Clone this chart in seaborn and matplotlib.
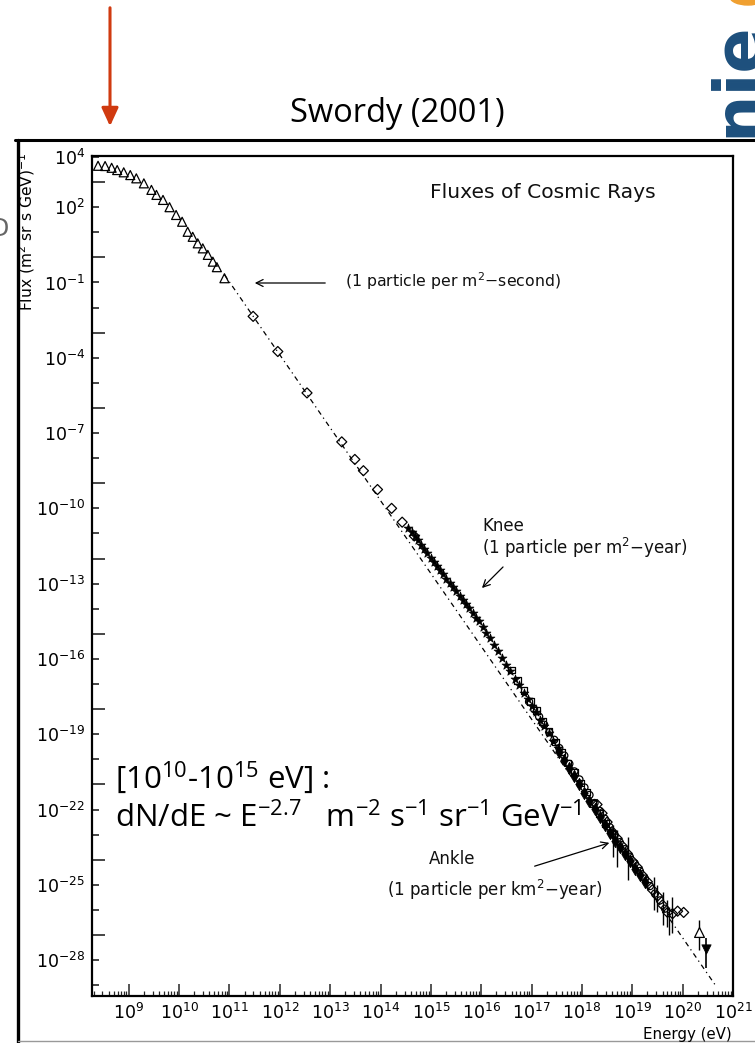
import numpy as np
import matplotlib
matplotlib.use("Agg")
import matplotlib.pyplot as plt
import seaborn as sns
from matplotlib.ticker import FixedLocator, FuncFormatter, LogLocator, NullFormatter
from matplotlib.lines import Line2D
from matplotlib.patches import Ellipse, FancyArrowPatch

# ---------------- data (log10 values) ----------------
tri_logE = [8.39, 8.53, 8.66, 8.77, 8.90, 9.03, 9.15, 9.30, 9.45, 9.55, 9.68, 9.81,
            9.94, 10.06, 10.17, 10.27, 10.37, 10.47, 10.57, 10.67, 10.75, 10.90]
tri_logF = [3.65, 3.64, 3.57, 3.48, 3.39, 3.28, 3.15, 2.95, 2.69, 2.49, 2.29, 2.00,
            1.69, 1.42, 1.02, 0.82, 0.56, 0.36, 0.10, -0.17, -0.39, -0.83]

dia_logE = [11.47, 11.96, 12.54, 13.23, 13.49, 13.66, 13.94, 14.22, 14.43, 14.67]
dia_logF = [-2.35, -3.75, -5.40, -7.35, -8.05, -8.50, -9.25, -10.00, -10.55, -11.10]

star_logE = [14.55, 14.62, 14.68, 14.74, 14.80, 14.87, 14.93, 15.00, 15.06, 15.12,
             15.19, 15.25, 15.31, 15.38, 15.44, 15.50, 15.57, 15.63, 15.70, 15.76,
             15.83, 15.90, 15.96, 16.03, 16.10, 16.17, 16.25, 16.33, 16.41, 16.50,
             16.58, 16.67, 16.75, 16.84, 16.92, 17.00, 17.08, 17.17, 17.25, 17.34,
             17.43, 17.52]
star_logF = [-10.80, -10.95, -11.12, -11.28, -11.44, -11.62, -11.78, -11.97, -12.12, -12.30,
             -12.47, -12.63, -12.80, -12.98, -13.15, -13.30, -13.50, -13.64, -13.82, -13.98,
             -14.16, -14.35, -14.50, -14.72, -14.95, -15.18, -15.43, -15.70, -15.96, -16.24,
             -16.50, -16.80, -17.05, -17.35, -17.60, -17.87, -18.13, -18.42, -18.68, -18.97,
             -19.25, -19.55]

sq_logE = [16.60, 16.72, 16.85, 16.98, 17.10, 17.22, 17.35, 17.47, 17.60, 17.72,
           17.85, 17.97, 18.10, 18.22, 18.35, 18.47, 18.60]
sq_logF = [-16.45, -16.85, -17.25, -17.70, -18.05, -18.50, -18.90, -19.30, -19.70, -20.15,
           -20.50, -20.95, -21.30, -21.75, -22.15, -22.55, -22.95]

fd_logE = [17.55, 17.65, 17.75, 17.85, 17.95, 18.05, 18.15, 18.25, 18.35, 18.45,
           18.55, 18.65, 18.75, 18.85, 18.95, 19.05, 19.15, 19.25]
fd_logF = [-19.70, -20.02, -20.35, -20.68, -21.00, -21.33, -21.65, -21.97, -22.30, -22.62,
           -22.95, -23.25, -23.50, -23.78, -24.05, -24.35, -24.62, -24.90]

circ_logE = [16.95, 17.05, 17.15, 17.25, 17.35, 17.45, 17.55, 17.65, 17.75, 17.85,
             17.95, 18.05, 18.15, 18.25, 18.35, 18.45, 18.55, 18.65, 18.75, 18.85,
             18.95, 19.05, 19.15, 19.25, 19.35, 19.45, 19.55, 19.65]
circ_logF = [-17.70, -18.00, -18.30, -18.62, -18.92, -19.22, -19.55, -19.85, -20.18, -20.48,
             -20.80, -21.12, -21.42, -21.74, -22.05, -22.36, -22.70, -23.02, -23.30, -23.58,
             -23.88, -24.15, -24.45, -24.75, -25.05, -25.35, -25.62, -25.95]

hd_logE = [18.30, 18.40, 18.50, 18.60, 18.70, 18.80, 18.90, 19.00, 19.10, 19.20,
           19.30, 19.40, 19.50, 19.60, 19.70, 19.80, 19.90, 20.02]
hd_logF = [-21.80, -22.15, -22.50, -22.88, -23.15, -23.45, -23.75, -24.05, -24.30, -24.62,
           -24.88, -25.20, -25.45, -25.80, -26.10, -26.15, -26.05, -26.10]

eb_logE = [18.62, 18.70, 18.92, 19.43, 19.50, 19.60, 19.68, 19.73, 19.79, 20.32]
eb_logF = [-23.10, -23.55, -23.95, -25.20, -25.45, -25.75, -26.00, -26.20, -26.30, -26.87]
eb_hi = [-22.60, -22.80, -23.10, -24.70, -25.00, -25.30, -25.60, -25.90, -25.50, -26.40]
eb_lo = [-23.90, -24.30, -24.80, -26.00, -26.10, -26.60, -26.70, -27.00, -26.90, -27.60]

lim_logE = [20.46]
lim_logF = [-27.55]
lim_hi = [-27.10]
lim_lo = [-28.30]

line_logE = [10.90, 20.65]
line_logF = [-0.69, -29.00]

xtick_exps = list(range(9, 22))
ylabel_exps = [4, 2, -1, -4, -7, -10, -13, -16, -19, -22, -25, -28]
ylong_exps = [3, 0, -3, -6, -9, -12, -15, -18, -21, -24, -27]

# ---------------- style ----------------
sns.set_theme(style="white")
plt.rcParams["font.family"] = ["DejaVu Sans"]
plt.rcParams["mathtext.default"] = "regular"

W, H = 755, 1043
fig = plt.figure(figsize=(W / 100, H / 100), dpi=100)
fig.patch.set_facecolor("white")


def fx(x):
    return x / W


def fy(y):
    return 1 - y / H


ax = fig.add_axes([fx(92), fy(996), (733 - 92) / W, (996 - 156) / H])
ax.set_xscale("log")
ax.set_yscale("log")

p = lambda a: 10.0 ** np.asarray(a)

sns.lineplot(x=p(line_logE), y=p(line_logF), ax=ax, color="black", lw=0.9,
             linestyle=(0, (4, 3, 1, 3)), sort=False, estimator=None)

open_kw = dict(facecolors="none", edgecolors="black", linewidths=0.9, zorder=3)
sns.scatterplot(x=p(tri_logE), y=p(tri_logF), ax=ax, marker="^", s=42, **open_kw)
sns.scatterplot(x=p(dia_logE), y=p(dia_logF), ax=ax, marker="D", s=26, **open_kw)
sns.scatterplot(x=p(star_logE), y=p(star_logF), ax=ax, marker="*", s=45,
                color="black", edgecolor="black", linewidth=0.5, zorder=3)
sns.scatterplot(x=p(sq_logE), y=p(sq_logF), ax=ax, marker="s", s=22, **open_kw)
sns.scatterplot(x=p(fd_logE), y=p(fd_logF), ax=ax, marker="d", s=40,
                color="black", edgecolor="black", linewidth=0.5, zorder=3)
sns.scatterplot(x=p(circ_logE), y=p(circ_logF), ax=ax, marker="o", s=26, **open_kw)
sns.scatterplot(x=p(hd_logE), y=p(hd_logF), ax=ax, marker="D", s=26, **open_kw)

eb_x = p(eb_logE)
eb_y = p(eb_logF)
ax.errorbar(eb_x, eb_y, yerr=[eb_y - p(eb_lo), p(eb_hi) - eb_y], fmt="none",
            ecolor="black", elinewidth=1.0, zorder=2)
sns.scatterplot(x=eb_x[-1:], y=eb_y[-1:], ax=ax, marker="^", s=50,
                facecolors="white", edgecolors="black", linewidths=0.9, zorder=4)
lx = p(lim_logE)
ly = p(lim_logF)
ax.errorbar(lx, ly, yerr=[ly - p(lim_lo), p(lim_hi) - ly], fmt="none",
            ecolor="black", elinewidth=1.2, zorder=2)
sns.scatterplot(x=lx, y=ly, ax=ax, marker="v", s=45, color="black",
                edgecolor="black", zorder=4)

ax.set_xlim(10 ** 8.27, 10 ** 21.0)
ax.set_ylim(10 ** -29.43, 10 ** 4.04)

# x ticks
ax.xaxis.set_major_locator(FixedLocator(p(xtick_exps)))
ax.xaxis.set_major_formatter(FuncFormatter(lambda v, pos: r"$10^{%d}$" % round(np.log10(v))))
ax.xaxis.set_minor_locator(LogLocator(base=10, subs=np.arange(2, 10), numticks=100))
ax.xaxis.set_minor_formatter(NullFormatter())

# y ticks
ax.yaxis.set_major_locator(FixedLocator(p(ylong_exps)))
ax.yaxis.set_major_formatter(NullFormatter())
short = sorted(set(range(-29, 5)) - set(ylong_exps))
ax.yaxis.set_minor_locator(FixedLocator(p(short)))
ax.yaxis.set_minor_formatter(FuncFormatter(
    lambda v, pos: (r"$10^{%d}$" % round(np.log10(v))) if round(np.log10(v)) in ylabel_exps else ""))

ax.tick_params(axis="x", which="major", direction="in", length=9, width=1.1,
               labelsize=12.5, pad=5, bottom=True, top=False)
ax.tick_params(axis="x", which="minor", direction="in", length=3.5, width=0.9,
               bottom=True, top=False)
ax.tick_params(axis="y", which="major", direction="in", length=9, width=1.2,
               left=True, right=False)
ax.tick_params(axis="y", which="minor", direction="in", length=5, width=1.2,
               labelsize=12.5, pad=5, left=True, right=False)
for lab in ax.get_xticklabels() + ax.get_yticklabels(minor=True):
    lab.set_color("black")
for s in ax.spines.values():
    s.set_color("black")
    s.set_linewidth(1.6)

ax.set_xlabel("")
ax.set_ylabel("")

arrow_style = "->,head_length=5,head_width=2.5"
# annotations inside the plot (figure-pixel positions)
fig.text(fx(430), fy(193), "Fluxes of Cosmic Rays", fontsize=14.6, ha="left", va="center",
         color="#111111")
fig.text(fx(345), fy(281), r"(1 particle per m$^2$−second)", fontsize=11.3, ha="left",
         va="center", color="#111111")
fig.add_artist(FancyArrowPatch((fx(328), fy(283)), (fx(252), fy(283)), transform=fig.transFigure,
                               arrowstyle=arrow_style, lw=0.9, color="black"))
fig.text(fx(482), fy(526), "Knee", fontsize=12, ha="left", va="center", color="#111111")
fig.text(fx(482), fy(548), r"(1 particle per m$^2$−year)", fontsize=12, ha="left",
         va="center", color="#111111")
fig.add_artist(FancyArrowPatch((fx(505), fy(565)), (fx(480), fy(590)), transform=fig.transFigure,
                               arrowstyle=arrow_style, lw=0.9, color="black"))
fig.text(fx(452), fy(859), "Ankle", fontsize=12, ha="center", va="center", color="#111111")
fig.text(fx(602), fy(890), r"(1 particle per km$^2$−year)", fontsize=12, ha="right",
         va="center", color="#111111")
fig.add_artist(FancyArrowPatch((fx(532), fy(867)), (fx(612), fy(842)), transform=fig.transFigure,
                               arrowstyle=arrow_style, lw=0.9, color="black"))

# axis titles
fig.text(fx(27), fy(153), r"Flux (m$^2$ sr s GeV)$^{-1}$", rotation=90, fontsize=11.2,
         ha="center", va="top", color="black")
fig.text(fx(732), fy(1035), "Energy (eV)", fontsize=10.8, ha="right", va="center", color="black")

# overlay slide text
fig.text(fx(115), fy(788), r"[10$^{10}$-10$^{15}$ eV] :", fontsize=22.5, ha="left",
         va="baseline", color="black", family=["Open Sans", "DejaVu Sans"])
fig.text(fx(115), fy(827), r"dN/dE ~ E$^{-2.7}$   m$^{-2}$ s$^{-1}$ sr$^{-1}$ GeV$^{-1}$",
         fontsize=22.5, ha="left", va="baseline", color="black",
         family=["Open Sans", "DejaVu Sans"])

fig.text(fx(397), fy(114), "Swordy (2001)", fontsize=23.5, ha="center", va="center",
         color="black", family=["Open Sans", "DejaVu Sans"])

# outer frame of the slide picture
fig.add_artist(Line2D([fx(15), 1.0], [fy(140), fy(140)], transform=fig.transFigure,
                      color="black", lw=2.2))
fig.add_artist(Line2D([fx(18), fx(18)], [fy(140), 0.0], transform=fig.transFigure,
                      color="black", lw=2.4))
fig.add_artist(Line2D([fx(18), 1.0], [fy(1041), fy(1041)], transform=fig.transFigure,
                      color="#999999", lw=1.0))

# red arrow on top
fig.add_artist(FancyArrowPatch((fx(110), fy(5)), (fx(110), fy(129)), transform=fig.transFigure,
                               arrowstyle="-|>,head_length=5,head_width=2.3", lw=2.2,
                               color="#d03a10", mutation_scale=2.2))

# slide decorations (cut-off logo and glyph)
fig.text(fx(758), fy(137), "nie", rotation=90, rotation_mode="anchor", ha="left",
         va="baseline", fontsize=48, fontweight="bold", color="#1d4f7c")
fig.add_artist(Ellipse((fx(748), fy(-3)), fx(36), 16 / H, transform=fig.transFigure,
                       color="#f0a030"))
fig.text(fx(9), fy(229), "D", fontsize=17, ha="right", va="center", color="#666666")

fig.savefig("out.png", dpi=100, facecolor="white")
